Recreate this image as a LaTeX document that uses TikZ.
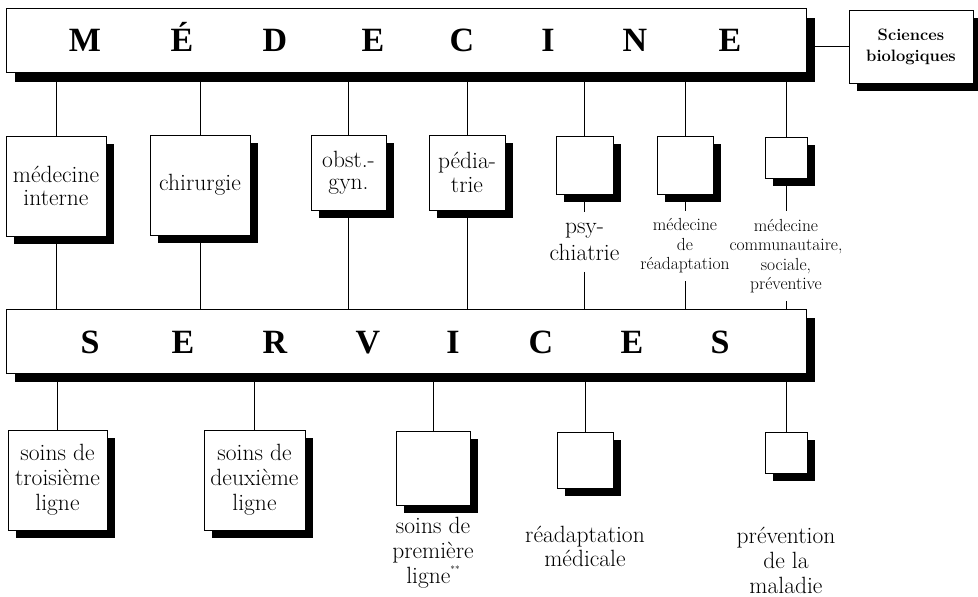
\documentclass[tikz,border=0pt]{standalone}
\usepackage{fontspec}
\newfontfamily\headfont{Liberation Serif}
\usetikzlibrary{shadows}

\begin{document}
\begin{tikzpicture}[x=1pt,y=-1pt,
  conn/.style={line width=1pt},
  shbox/.style={draw, line width=0.9pt, fill=white, inner sep=0pt, align=center,
    drop shadow={shadow xshift=8pt, shadow yshift=-8pt, opacity=1, fill=black}},
  bar/.style={draw, line width=0.9pt, fill=white, inner sep=0pt,
    minimum width=800pt, minimum height=64pt,
    drop shadow={shadow xshift=9pt, shadow yshift=-9pt, opacity=1, fill=black}},
  headletter/.style={anchor=base, inner sep=0pt,
    font=\headfont\bfseries\fontsize{34}{34}\selectfont},
  sq/.style 2 args={shbox, minimum width=#1pt, minimum height=#2pt},
  big/.style={font=\fontsize{23.5}{#1}\selectfont},
  biglab/.style={align=center, inner xsep=0pt, inner ysep=11pt,
    font=\fontsize{23.5}{#1}\selectfont},
  smalllab/.style={align=center, inner xsep=0pt, inner ysep=8pt,
    font=\fontsize{17.5}{19.5}\selectfont}
]
\useasboundingbox (0,0) rectangle (978,597);

% top bar
\node[bar] (med) at (406,40.5) {};
\foreach \L/\X [count=\i] in {M/85,É/182,D/275,E/373,C/462,I/548,N/635,E/730}
  \node[headletter] (medl\i) at (\X,51) {\L};

\node[sq={124}{73}, font=\bfseries\fontsize{16.5}{21}\selectfont] (sci) at (911,46.5)
  {Sciences\\biologiques};

% specialties
\node[sq={100}{100}, big=22.5] (mi) at (56,186) {médecine\\interne};
\node[sq={100}{100}, big=22] (ch) at (200,185) {chirurgie};
\node[sq={75}{75}, big=22.5] (ob) at (348.5,172.5) {obst.-\\gyn.};
\node[sq={76}{75}, big=24] (pe) at (467,172.5) {pédia-\\trie};
\node[sq={57}{58}] (ps) at (584.5,165) {};
\node[sq={56}{58}] (re) at (685,165) {};
\node[sq={42}{41}] (co) at (786,157.5) {};

\node[biglab=27] (psl) at (584.5,242) {psy-\\chiatrie};
\node[smalllab] (rel) at (685,246) {médecine\\de\\réadaptation};
\node[smalllab] (col) at (786,256) {médecine\\communautaire,\\sociale,\\préventive};

% services bar
\node[bar] (serv) at (406,341) {};
\foreach \L/\X [count=\i] in {S/90,E/183,R/275,V/368,I/453,C/541,E/632,S/720}
  \node[headletter] (servl\i) at (\X,353) {\L};

% services
\node[sq={99}{100}, big=25] (t3) at (57.5,480) {soins de\\troisième\\ligne};
\node[sq={101}{100}, big=25] (t2) at (254.5,480) {soins de\\deuxième\\ligne};
\node[sq={74}{74}] (p1) at (433,468) {};
\node[sq={56}{56}] (rm) at (585,460) {};
\node[sq={42}{41}] (pv) at (786,452.5) {};

\node[biglab=25] (p1l) at (433,553)
  {soins de\\première\\ligne\raisebox{1.1ex}{\fontsize{9}{9}\selectfont **}};
\node[biglab=24] (rml) at (585,546) {réadaptation\\médicale};
\node[biglab=25] (pvl) at (786,560) {prévention\\de la\\maladie};

% connectors
\draw[conn] (sci.west -| med.east) -- (sci.west);
\foreach \n in {mi,ch,ob,pe,ps,re,co}
  \draw[conn] (\n.north |- med.south) -- (\n.north);
\foreach \n in {mi,ch,ob,pe}
  \draw[conn] (\n.south) -- (\n.south |- serv.north);
\foreach \n/\l in {ps/psl,re/rel,co/col}{
  \draw[conn] (\n.south) -- (\l.north);
  \draw[conn] (\l.south) -- (\l.south |- serv.north);
}
\foreach \n in {t3,t2,p1,rm,pv}
  \draw[conn] (\n.north |- serv.south) -- (\n.north);
\end{tikzpicture}
\end{document}
